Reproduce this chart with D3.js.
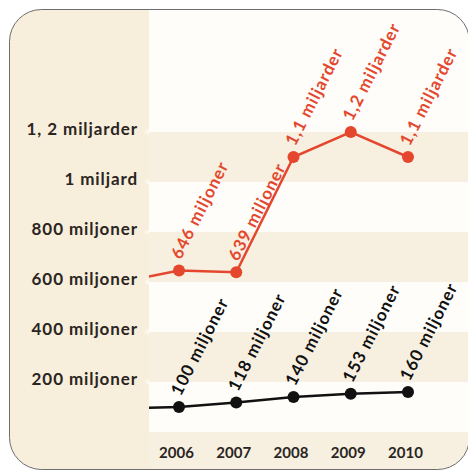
<!DOCTYPE html>
<html>
<head>
<meta charset="utf-8">
<script src="https://cdn.jsdelivr.net/npm/d3@7"></script>
<style>
  html, body { margin: 0; padding: 0; background: #ffffff; }
  svg { display: block; }
  text { font-family: Lato, "Open Sans", sans-serif; font-weight: 700; }
</style>
</head>
<body>
<svg id="chart" width="468" height="470"></svg>
<script>
// ---- data ----
const years = [2006, 2007, 2008, 2009, 2010];
// value for 2005 only feeds the clipped line stub entering from the left edge
const leadYear = 2005;
const redLead = 600;
const blackLead = 95;
const redValues = [646, 639, 1100, 1200, 1100];      // miljoner
const blackValues = [100, 118, 140, 153, 160];       // miljoner
const redLabels = ["646 miljoner", "639 miljoner", "1,1 miljarder", "1,2 miljarder", "1,1 miljarder"];
const blackLabels = ["100 miljoner", "118 miljoner", "140 miljoner", "153 miljoner", "160 miljoner"];
const tickValues = [200, 400, 600, 800, 1000, 1200];
const tickLabels = ["200 miljoner", "400 miljoner", "600 miljoner", "800 miljoner", "1 miljard", "1, 2 miljarder"];
const bandEdges = [0, 200, 400, 600, 800, 1000, 1200];

// ---- layout ----
const W = 468, H = 470;
const frame = { x: 9.5, y: 9.5, w: 460, h: 460, r: 32 };
const plotLeft = 149;
const RED = "#e4472d", BLACK = "#111111";
const BEIGE = "#f8eedc", BAND = "#f7f0e1", WHITE = "#fefdfa";

const svg = d3.select("#chart");
const defs = svg.append("defs");
defs.append("clipPath").attr("id", "frameClip")
  .append("rect").attr("x", frame.x).attr("y", frame.y).attr("width", frame.w).attr("height", frame.h)
  .attr("rx", frame.r).attr("ry", frame.r);
defs.append("clipPath").attr("id", "plotClip")
  .append("rect").attr("x", plotLeft).attr("y", 0).attr("width", W - plotLeft).attr("height", H);

const x = d3.scaleLinear().domain([2006, 2010]).range([179, 408]);
const y = d3.scaleLinear().domain([0, 1200]).range([432, 132]);

const g = svg.append("g").attr("clip-path", "url(#frameClip)");

// left label panel
g.append("rect").attr("x", 0).attr("y", 0).attr("width", plotLeft).attr("height", H).attr("fill", BEIGE);
// plot background (top area)
g.append("rect").attr("x", plotLeft).attr("y", 0).attr("width", W - plotLeft).attr("height", H).attr("fill", WHITE);
// bands
const bands = d3.pairs(bandEdges);
g.selectAll("rect.band").data(bands).join("rect").attr("class", "band")
  .attr("x", plotLeft).attr("width", W - plotLeft)
  .attr("y", d => y(d[1])).attr("height", d => y(d[0]) - y(d[1]))
  .attr("fill", (d, i) => i % 2 === 1 ? BAND : WHITE);
// area below zero (year labels)
g.append("rect").attr("x", plotLeft).attr("width", W - plotLeft)
  .attr("y", y(0)).attr("height", H - y(0)).attr("fill", BAND);

// small notches at band edges
g.selectAll("path.notch").data(tickValues).join("path").attr("class", "notch")
  .attr("d", d => `M${plotLeft - 5},${y(d)} L${plotLeft},${y(d) - 3} L${plotLeft},${y(d) + 3} Z`)
  .attr("fill", "#fdf8ef");

const FONT = 17, SPACING = "0.9px";

// y axis labels
const yAxis = d3.axisLeft(y).tickValues(tickValues)
  .tickFormat((d, i) => tickLabels[i]).tickSize(0).tickPadding(0);
const yg = g.append("g").attr("transform", "translate(138,-3)").call(yAxis);
yg.select(".domain").remove();
yg.selectAll("text").attr("fill", "#2a2522").attr("font-size", FONT)
  .style("letter-spacing", SPACING)
  .style("font-family", "Lato, sans-serif").style("font-weight", 700);

// x axis labels
const xAxis = d3.axisBottom(x).tickValues(years).tickFormat(d3.format("d")).tickSize(0).tickPadding(0);
const xg = g.append("g").attr("transform", "translate(-3,447)").call(xAxis);
xg.select(".domain").remove();
xg.selectAll("text").attr("fill", "#2a2522").attr("font-size", 15)
  .style("font-family", "Lato, sans-serif").style("font-weight", 700);

// lines
const line = d3.line().x(d => x(d[0])).y(d => y(d[1]));
const plotG = g.append("g").attr("clip-path", "url(#plotClip)");
function series(values, lead, color, labels) {
  const pts = [[leadYear, lead]].concat(years.map((yr, i) => [yr, values[i]]));
  plotG.append("path").datum(pts).attr("d", line)
    .attr("fill", "none").attr("stroke", color).attr("stroke-width", 2.5);
  plotG.selectAll(null).data(years).join("circle")
    .attr("cx", d => x(d)).attr("cy", (d, i) => y(values[i])).attr("r", 6).attr("fill", color);
  plotG.selectAll(null).data(years).join("text")
    .attr("transform", (d, i) => `translate(${x(d)},${y(values[i])}) rotate(-63)`)
    .attr("x", 10).attr("y", -9).attr("dy", "0.35em")
    .attr("fill", color).attr("font-size", FONT).style("letter-spacing", SPACING)
    .text((d, i) => labels[i]);
}
series(redValues, redLead, RED, redLabels);
series(blackValues, blackLead, BLACK, blackLabels);

// frame border
svg.append("rect").attr("x", frame.x).attr("y", frame.y).attr("width", frame.w).attr("height", frame.h)
  .attr("rx", frame.r).attr("ry", frame.r).attr("fill", "none").attr("stroke", "#6d6d6d").attr("stroke-width", 1);
</script>
</body>
</html>
